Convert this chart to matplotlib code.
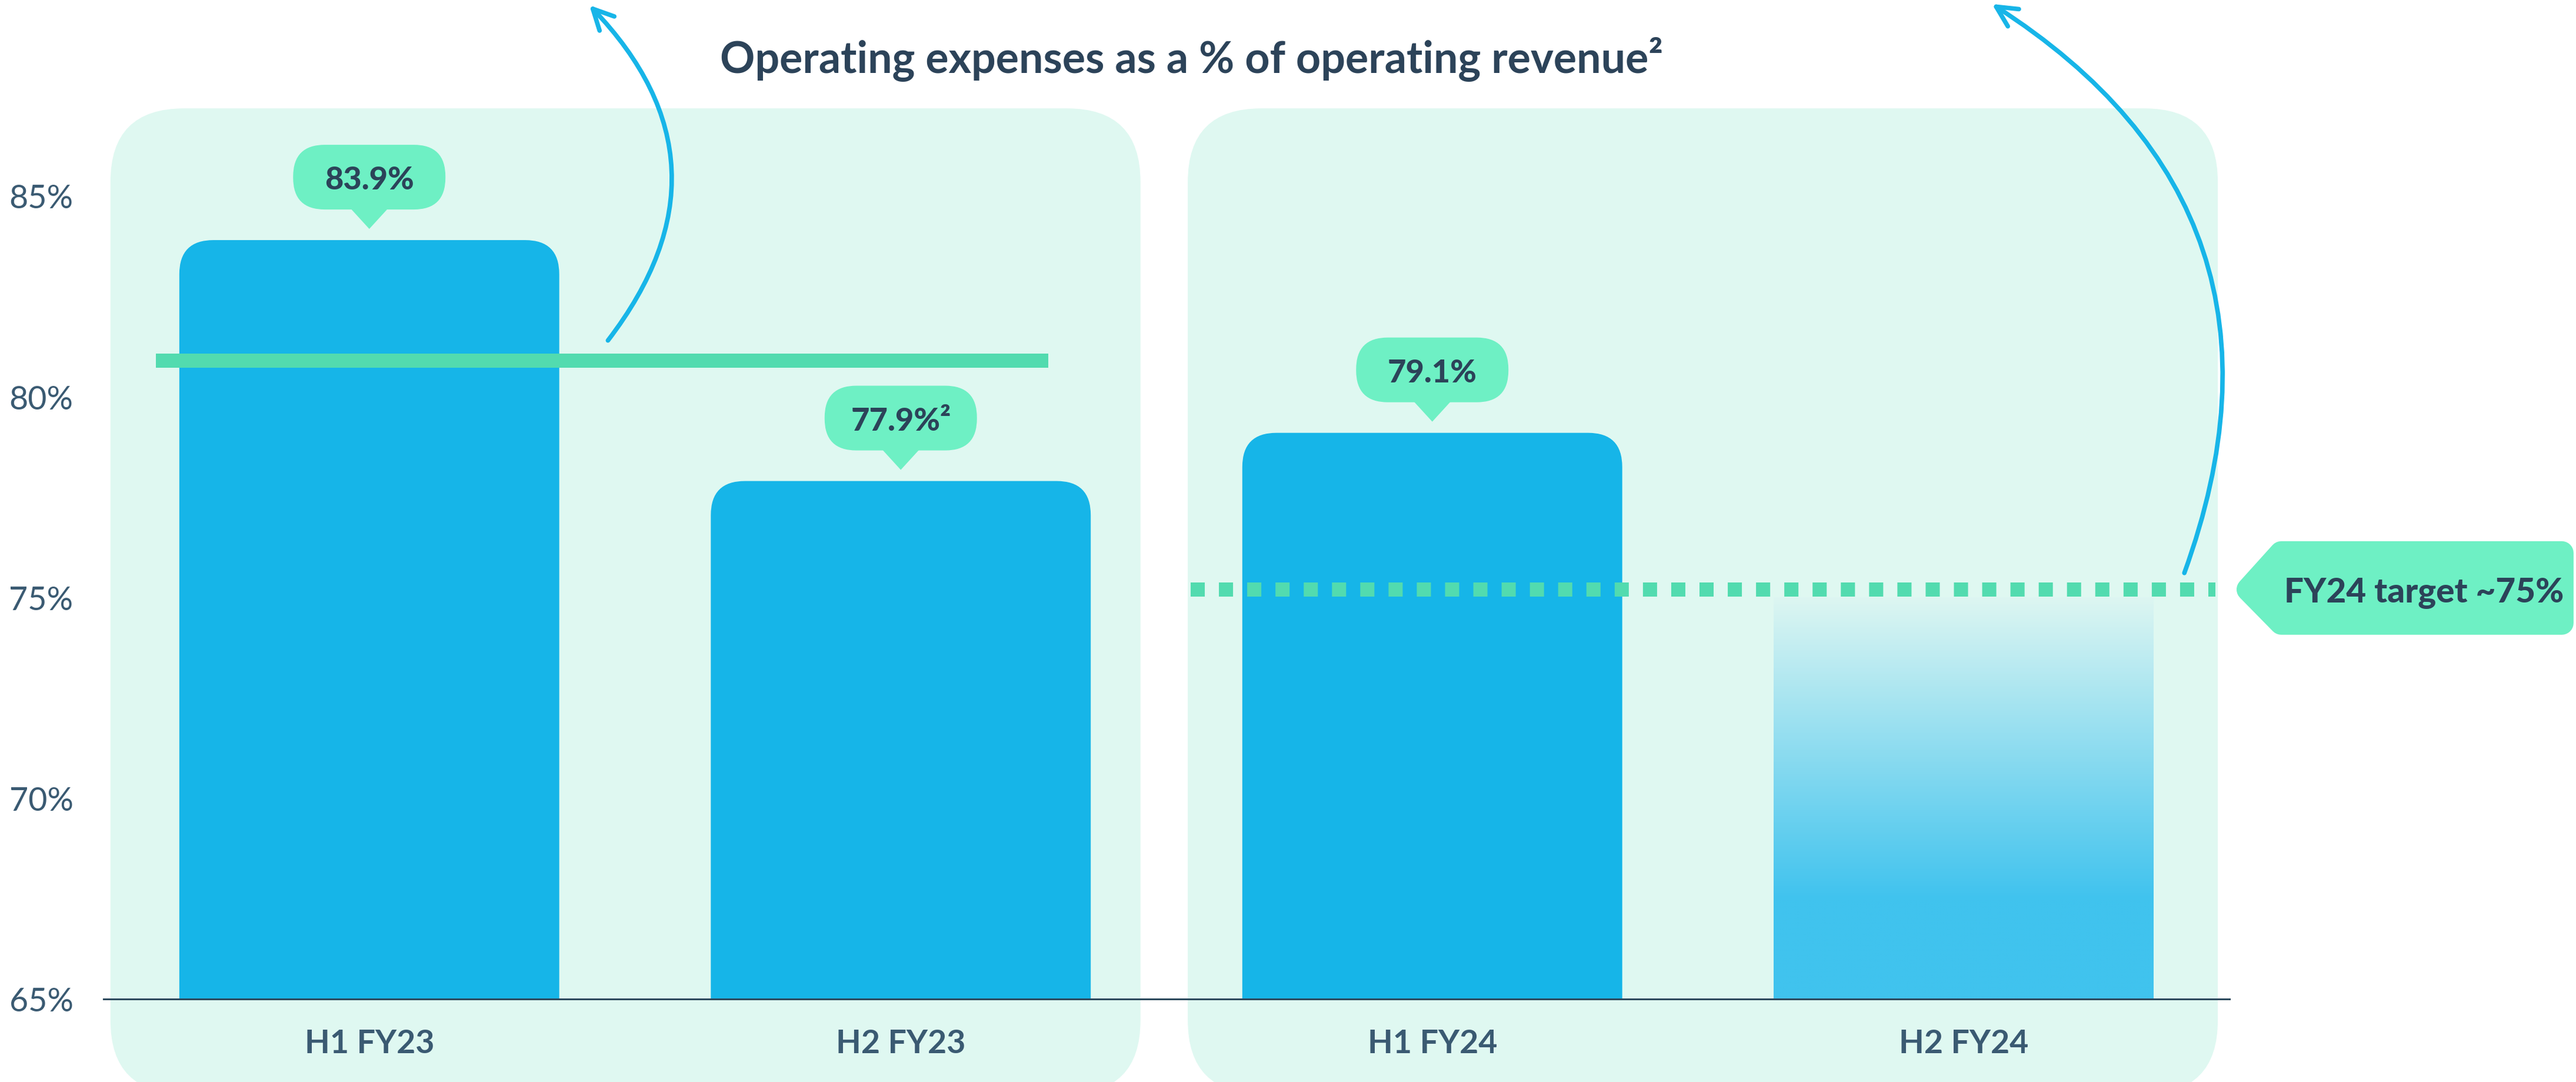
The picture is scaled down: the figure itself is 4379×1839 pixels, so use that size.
import numpy as np
import matplotlib
matplotlib.use("Agg")
import matplotlib.pyplot as plt
from matplotlib.patches import FancyBboxPatch, Polygon, FancyArrowPatch

# data
periods = ['H1 FY23', 'H2 FY23', 'H1 FY24', 'H2 FY24']
actual_pct = [83.9, 77.9, 79.1]
bubble_text = ['83.9%', '77.9%²', '79.1%']
target_pct = 75.0
target_line = 75.2
fy23_line = 80.9
y_ticks = [65, 70, 75, 80, 85]
title = 'Operating expenses as a % of operating revenue²'
target_text = 'FY24 target ~75%'

# colours
PANEL = '#DFF8F1'
BLUE = '#16B5E8'
BLUE_LIGHT = '#40C3EE'
GREEN = '#52DBAF'
BUBBLE = '#6EF0C4'
DARK = '#2C4359'
AXIS_TXT = '#3A5A72'
ARROW = '#17B5E8'

plt.rcParams['font.family'] = ['Lato', 'DejaVu Sans']

W, H = 4379, 1840
SX, SY = 903.7, 68.25   # pixels per category step / per percentage point
fig = plt.figure(figsize=(W / 100, H / 100), dpi=100)
ax = fig.add_axes([176 / W, 141 / H, (3790 - 176) / W, (H - 141) / H])
ax.patch.set_visible(False)


def px_x(p):
    return p / SX


def px_y(p):
    return p / SY


x = np.arange(len(periods))
bw = px_x(646)
asp = SX / SY

# background panels, one per financial year
for left, right in [(-0.487, 1.451), (1.540, 3.478)]:
    ax.add_patch(FancyBboxPatch((left, 62.64), right - left, 87.18 - 62.64,
                                boxstyle=f"round,pad=0,rounding_size={px_x(125)}",
                                mutation_aspect=asp, fc=PANEL, ec='none',
                                zorder=0, clip_on=False))

# actual bars with rounded tops
bars = ax.bar(x[:3], np.array(actual_pct) - 65, bottom=65, width=bw, color=BLUE)
for b in bars:
    x0, w, top = b.get_x(), b.get_width(), b.get_y() + b.get_height()
    b.set_visible(False)
    ax.add_patch(FancyBboxPatch((x0, 60), w, top - 60,
                                boxstyle=f"round,pad=0,rounding_size={px_x(58)}",
                                mutation_aspect=asp, fc=BLUE, ec='none', zorder=2))

# target bar with fade
yy = np.linspace(65, target_pct, 300)
t = np.clip((yy - 67.5) / (target_pct - 67.5), 0, 1)[:, None]
c_bot = np.array(matplotlib.colors.to_rgb(BLUE_LIGHT))
c_top = np.array(matplotlib.colors.to_rgb('#DDF6F2'))
grad = c_bot * (1 - t) + c_top * t
ax.imshow(grad[:, None, :].repeat(2, axis=1), origin='lower', aspect='auto',
          extent=[x[3] - bw / 2, x[3] + bw / 2, 65, target_pct], zorder=2,
          interpolation='bilinear')

# reference lines
ax.plot([x[0] - 0.402, x[1] + 0.278], [fy23_line] * 2, color=GREEN, lw=17.3,
        solid_capstyle='butt', zorder=3)
ax.plot([x[2] - 0.455, x[3] + 0.473], [target_line] * 2, color=GREEN, lw=17.3,
        ls=(0, (1, 1)), dash_capstyle='butt', zorder=3)

# value bubbles
bub_w, bub_h = px_x(259), px_y(110)
for xi, v, s in zip(x[:3], actual_pct, bubble_text):
    bot = v + px_y(52)
    ax.add_patch(FancyBboxPatch((xi - bub_w / 2, bot), bub_w, bub_h,
                                boxstyle=f"round,pad=0,rounding_size={px_x(54)}",
                                mutation_aspect=asp, fc=BUBBLE, ec='none', zorder=4))
    ax.add_patch(Polygon([(xi - px_x(32), bot + px_y(2)), (xi + px_x(32), bot + px_y(2)),
                          (xi, v + px_y(19))], closed=True, fc=BUBBLE, ec='none', zorder=4))
    ax.text(xi, bot + bub_h / 2, s, ha='center', va='center_baseline', fontsize=39,
            fontweight='black', color=DARK, zorder=5)

# target callout
r = 3.5
callout = [(r + px_x(32), target_line), (r + px_x(88), target_line + px_y(62)),
           (r + px_x(565), target_line + px_y(62)), (r + px_x(565), target_line - px_y(57)),
           (r + px_x(88), target_line - px_y(57))]
ax.add_patch(Polygon(callout, closed=True, fc=BUBBLE, ec=BUBBLE, lw=28.8,
                     joinstyle='round', zorder=4, clip_on=False))
ax.text(r + px_x(331), target_line, target_text, ha='center', va='center_baseline',
        fontsize=42, fontweight='black', color=DARK, zorder=5, clip_on=False)

# curved arrows
for a, b_, rad in [((0.449, 81.40), (0.414, 89.75), 0.43),
                   ((3.415, 75.61), (3.053, 89.78), 0.40)]:
    ax.add_patch(FancyArrowPatch(a, b_, connectionstyle=f"arc3,rad={rad}",
                                 arrowstyle="->,head_length=0.5,head_width=0.25",
                                 mutation_scale=50, lw=5.5, color=ARROW,
                                 shrinkA=0, shrinkB=0, clip_on=False, zorder=3))

ax.set_xlim(-0.5, 3.5)
ax.set_ylim(65, 65 + 1699 / SY)

ax.set_yticks(y_ticks, [f'{v}%' for v in y_ticks], fontsize=40, fontweight='normal',
              color=AXIS_TXT)
ax.set_xticks(x, periods, fontsize=40, fontweight='bold', color=AXIS_TXT)
ax.tick_params(axis='both', length=0)
ax.tick_params(axis='y', pad=37)
ax.tick_params(axis='x', pad=36)

for side in ['top', 'right', 'left']:
    ax.spines[side].set_visible(False)
ax.spines['bottom'].set_color('#2E4A5E')
ax.spines['bottom'].set_linewidth(2.2)
ax.spines['bottom'].set_zorder(6)

fig.text(2026 / W, 1 - 124 / H, title, ha='center', va='baseline', fontsize=53,
         fontweight='bold', color=DARK)

fig.savefig('out.png', dpi=100)
